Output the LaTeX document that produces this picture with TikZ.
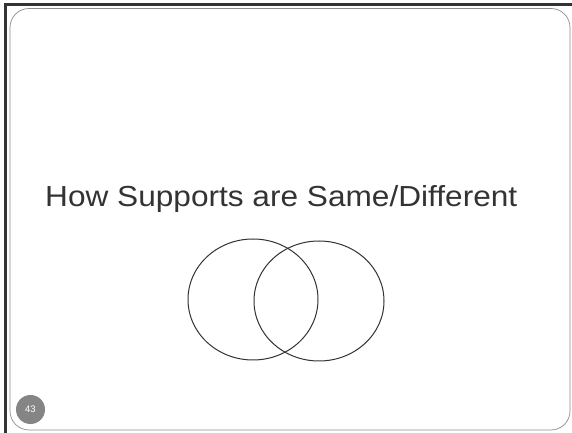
\documentclass[tikz,border=0pt]{standalone}
\usepackage{fontspec}
\setmainfont{Liberation Sans}
\usetikzlibrary{shapes.geometric}
\begin{document}
\begin{tikzpicture}[x=1pt,y=1pt,
  frame/.style={draw=black!80, line width=3pt},
  slide/.style={draw=black!45, line width=0.7pt, rounded corners=19pt},
  venn/.style={ellipse, draw=black!80, line width=1pt, inner sep=0pt},
  pagenum/.style={circle, fill=black!48, text=white, inner sep=0pt, minimum size=29pt, font=\fontsize{9.5}{10}\selectfont},
  titletext/.style={text=black!80, inner sep=0pt, xscale=1.09, font=\fontsize{29}{32}\selectfont}]
\useasboundingbox (0,0) rectangle (572,433);
\fill[white] (0,0) rectangle (572,433);
\draw[frame] (5.5,0) -- (5.5,428.5) -- (572,428.5);
\draw[slide] (10,3) rectangle (570,424.5);
\node[titletext, anchor=base west] (title) at (45,226.3) {How Supports are Same/Different};
\node[venn, minimum width=130pt, minimum height=121pt] (left) at (253,133.5) {};
\node[venn, minimum width=130pt, minimum height=120pt] (right) at (319,132) {};
\node[pagenum] (num) at (30.5,23.5) {43};
\end{tikzpicture}
\end{document}
